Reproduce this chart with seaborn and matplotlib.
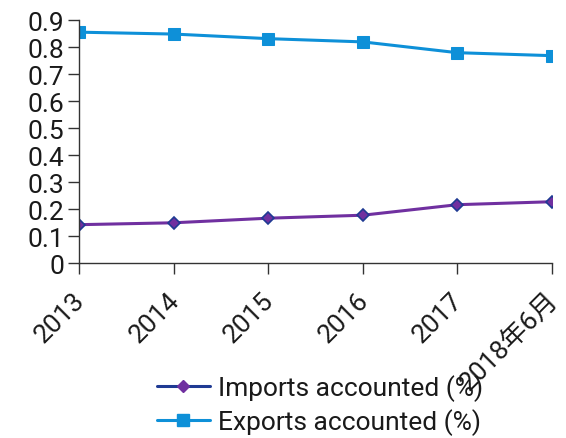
import matplotlib
matplotlib.use("Agg")
import matplotlib.pyplot as plt
from matplotlib.lines import Line2D
import seaborn as sns
import pandas as pd

categories = ["2013", "2014", "2015", "2016", "2017", "2018年6月"]
imports_pct = [0.143, 0.150, 0.167, 0.178, 0.217, 0.228]
exports_pct = [0.856, 0.849, 0.832, 0.820, 0.780, 0.769]
y_ticks = [0, 0.1, 0.2, 0.3, 0.4, 0.5, 0.6, 0.7, 0.8, 0.9]
y_ticklabels = ["0", "0.1", "0.2", "0.3", "0.4", "0.5", "0.6", "0.7", "0.8", "0.9"]
series_names = ["Imports accounted (%)", "Exports accounted (%)"]

sns.set_theme(style="ticks")
plt.rcParams["font.family"] = ["Roboto", "Noto Sans CJK SC", "DejaVu Sans"]
plt.rcParams["font.weight"] = "normal"

FS = 19
fig = plt.figure(figsize=(5.66, 4.39), dpi=100)
ax = fig.add_axes([0.140, 0.398, 0.835, 0.5535])

df = pd.DataFrame({"cat": categories, "imp": imports_pct, "exp": exports_pct})

purple = "#7030A0"
navy = "#1F3A93"
blue = "#0E90D8"
txt = "#1a1a1a"

sns.lineplot(data=df, x="cat", y="imp", ax=ax, color=purple, lw=2.2,
             marker="D", markersize=6, markerfacecolor=purple,
             markeredgecolor=navy, markeredgewidth=1.2, sort=False)
sns.lineplot(data=df, x="cat", y="exp", ax=ax, color=blue, lw=2.2,
             marker="s", markersize=8, markerfacecolor=blue,
             markeredgecolor=blue, sort=False)

ax.set_xlim(0, len(categories) - 1)
ax.set_ylim(0, 0.9)
ax.set_yticks(y_ticks)
ax.set_yticklabels(y_ticklabels, fontsize=FS)
ax.set_xticks(range(len(categories)))
ax.set_xticklabels(categories, fontsize=FS, rotation=45, ha="right",
                   va="center_baseline", rotation_mode="anchor")
ax.set_xlabel("")
ax.set_ylabel("")
for s in ["top", "right"]:
    ax.spines[s].set_visible(False)
for s in ["left", "bottom"]:
    ax.spines[s].set_color("#333333")
    ax.spines[s].set_linewidth(1.0)
ax.tick_params(axis="both", length=8, width=1.0, color="#333333",
               labelcolor=txt, pad=3)
ax.tick_params(axis="x", pad=14)

handles = [
    Line2D([], [], color=navy, lw=2.2, marker="D", markersize=6,
           markerfacecolor=purple, markeredgecolor=purple),
    Line2D([], [], color=blue, lw=2.2, marker="s", markersize=8,
           markerfacecolor=blue, markeredgecolor=blue),
]
fig.legend(handles, series_names, loc="center", bbox_to_anchor=(0.565, 0.076),
           frameon=False, fontsize=FS, handlelength=2.0, handletextpad=0.3,
           labelspacing=0.25, borderpad=0, labelcolor=txt)

fig.savefig("out.png", dpi=100)
